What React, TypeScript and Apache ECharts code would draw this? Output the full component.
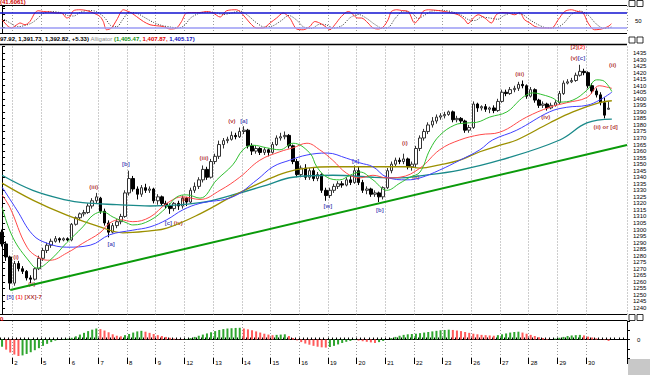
import React, { useEffect, useRef } from "react";
import * as echarts from "echarts";

const dayNames = ["1", "2", "5", "6", "7", "8", "9", "12", "13", "14", "15", "16", "19", "20", "21", "22", "23", "26", "27", "28", "29", "30"];
const barsPerDay = [3, 7, 7, 7, 7, 7, 7, 7, 7, 7, 7, 7, 7, 7, 7, 7, 7, 7, 7, 7, 7, 6];
const emptySlots = 4;

const opens = [1298, 1289, 1279,
  1259, 1274, 1270, 1268, 1263, 1262, 1270,
  1278, 1284, 1288, 1291, 1293, 1292, 1293,
  1292, 1304, 1309, 1312, 1313, 1318, 1322,
  1324, 1314, 1305, 1298, 1303, 1306, 1310,
  1328, 1339, 1331, 1327, 1332, 1330, 1331,
  1322, 1325, 1320, 1318, 1316, 1320, 1318,
  1324, 1321, 1330, 1333, 1338, 1346, 1340,
  1352, 1356, 1365, 1368, 1369, 1372, 1371,
  1375, 1376, 1364, 1360, 1362, 1359, 1361,
  1359, 1365, 1370, 1371, 1372, 1364, 1352,
  1342, 1347, 1340, 1345, 1339, 1342, 1330,
  1326, 1330, 1333, 1335, 1334, 1338, 1336,
  1345, 1336, 1330, 1331, 1327, 1328, 1325,
  1332, 1345, 1350, 1353, 1352, 1354, 1348,
  1350, 1362, 1370, 1375, 1380, 1383, 1386,
  1387, 1388, 1390, 1384, 1385, 1383, 1376,
  1378, 1396, 1393, 1394, 1392, 1393, 1391,
  1398, 1405, 1404, 1407, 1408, 1411, 1410,
  1402, 1407, 1399, 1395, 1396, 1393, 1395,
  1397, 1404, 1412, 1413, 1414, 1418, 1421,
  1420, 1410, 1406, 1403, 1397, 1392.0];
const closes = [1289, 1279, 1259,
  1274, 1270, 1268, 1263, 1262, 1270, 1278,
  1284, 1288, 1291, 1293, 1292, 1293, 1292,
  1304, 1309, 1312, 1313, 1318, 1322, 1325,
  1314, 1305, 1298, 1303, 1306, 1310, 1328,
  1339, 1331, 1327, 1332, 1330, 1331, 1322,
  1325, 1320, 1318, 1316, 1320, 1318, 1324,
  1321, 1330, 1333, 1338, 1346, 1340, 1352,
  1356, 1365, 1368, 1369, 1372, 1371, 1375,
  1376, 1364, 1360, 1362, 1359, 1361, 1359,
  1365, 1370, 1371, 1372, 1364, 1352, 1342,
  1347, 1340, 1345, 1339, 1342, 1330, 1326,
  1330, 1333, 1335, 1334, 1338, 1336, 1345,
  1336, 1330, 1331, 1327, 1328, 1325, 1332,
  1345, 1350, 1353, 1352, 1354, 1348, 1350,
  1362, 1370, 1375, 1380, 1383, 1386, 1387,
  1388, 1390, 1384, 1385, 1383, 1376, 1378,
  1396, 1393, 1394, 1392, 1393, 1391, 1398,
  1405, 1404, 1407, 1408, 1411, 1410, 1402,
  1407, 1399, 1395, 1396, 1393, 1395, 1397,
  1404, 1412, 1413, 1414, 1418, 1421, 1420,
  1410, 1406, 1403, 1397, 1387.49, 1392.82];
const lows = [1287, 1276, 1254,
  1257, 1268, 1266, 1261, 1259, 1261, 1269,
  1276, 1282, 1286, 1290, 1290, 1291, 1291,
  1291, 1303, 1307, 1310, 1312, 1316, 1320,
  1312, 1303, 1294, 1297, 1301, 1304, 1309,
  1326, 1329, 1323, 1325, 1328, 1328, 1320,
  1319, 1318, 1316, 1312, 1314, 1315, 1316,
  1318, 1320, 1328, 1331, 1336, 1338, 1339,
  1350, 1354, 1362, 1366, 1368, 1369, 1370,
  1373, 1362, 1357, 1358, 1357, 1357, 1356,
  1358, 1364, 1368, 1369, 1362, 1350, 1340,
  1340, 1338, 1338, 1337, 1337, 1328, 1322,
  1324, 1328, 1331, 1332, 1333, 1334, 1335,
  1334, 1328, 1327, 1325, 1325, 1321, 1323,
  1331, 1343, 1348, 1350, 1350, 1346, 1345,
  1347, 1360, 1368, 1373, 1378, 1381, 1384,
  1385, 1387, 1382, 1382, 1381, 1374, 1374,
  1377, 1390, 1391, 1390, 1389, 1389, 1390,
  1397, 1402, 1403, 1405, 1406, 1408, 1400,
  1401, 1397, 1393, 1393, 1391, 1392, 1394,
  1396, 1403, 1411, 1412, 1413, 1417, 1418,
  1408, 1404, 1401, 1395, 1385, 1391.73];
const highs = [1300, 1291, 1280,
  1276, 1276, 1272, 1269, 1265, 1271, 1280,
  1286, 1290, 1293, 1295, 1294, 1294, 1294,
  1305, 1310, 1313, 1315, 1320, 1324, 1328,
  1325, 1316, 1307, 1305, 1308, 1312, 1330,
  1345, 1341, 1333, 1334, 1335, 1333, 1332,
  1327, 1326, 1322, 1320, 1321, 1322, 1326,
  1325, 1332, 1336, 1340, 1349, 1348, 1354,
  1358, 1368, 1370, 1371, 1375, 1374, 1378,
  1379, 1377, 1366, 1364, 1363, 1363, 1362,
  1367, 1372, 1374, 1375, 1373, 1365, 1354,
  1349, 1350, 1347, 1347, 1344, 1343, 1332,
  1332, 1335, 1337, 1337, 1340, 1341, 1349,
  1348, 1338, 1333, 1332, 1330, 1329, 1333,
  1347, 1352, 1355, 1355, 1358, 1355, 1352,
  1364, 1372, 1377, 1382, 1386, 1388, 1389,
  1390, 1391, 1391, 1387, 1386, 1384, 1380,
  1398, 1397, 1395, 1396, 1394, 1395, 1400,
  1407, 1407, 1409, 1410, 1413, 1414, 1411,
  1409, 1408, 1400, 1398, 1397, 1397, 1399,
  1406, 1414, 1415, 1416, 1420, 1426, 1423,
  1421, 1412, 1408, 1405, 1401, 1397.92];

// [bar index, value] samples
const kLine = [[0, 53], [0.7, 40], [1.5, 26], [2.3, 20], [3.6, 33], [4.4, 40], [5.6, 33], [6.8, 46], [8, 80], [8.8, 89], [10.1, 86], [11.7, 84], [13.3, 80], [14.5, 80], [15.8, 60], [16.6, 66], [17.4, 89], [19, 93], [20.6, 90], [22.3, 80], [23.9, 66], [24.7, 46], [25.5, 13], [26.7, 20], [28, 53], [29.6, 93], [30.8, 86], [31.6, 80], [32.8, 66], [34.5, 46], [36.1, 33], [37.7, 29], [39.3, 26], [41, 16], [42.6, 20], [43.8, 46], [45, 80], [46.6, 82], [48.3, 82], [49.9, 86], [51.5, 80], [53.2, 64], [54.8, 89], [57.2, 93], [58.8, 73], [60.5, 40], [62.1, 20], [63.7, 20], [65.4, 40], [67, 60], [68.6, 80], [70.2, 60], [71.9, 16], [73.5, 13], [75.1, 26], [76.3, 46], [77.5, 40], [78.8, 27], [80, 13], [81.2, 33], [82.8, 66], [84.5, 86], [85.3, 80], [86.1, 66], [86.9, 60], [87.7, 60], [89.3, 40], [90.5, 20], [91.8, 16], [93, 24], [94.2, 53], [95, 86], [96.3, 93], [97.5, 90], [99.1, 86], [100.7, 40], [101.9, 60], [102.7, 86], [104, 93], [106.4, 90], [108, 86], [109.7, 80], [111.3, 73], [112.9, 53], [113.7, 37], [115, 60], [116.2, 73], [117.8, 60], [119.4, 40], [120.6, 73], [121.9, 82], [123.5, 80], [125.1, 73], [126.3, 82], [127.5, 53], [128.8, 40], [130, 26], [131.6, 20], [134.1, 20], [135.7, 53], [137.3, 86], [138.9, 93], [140.5, 86], [141.8, 80], [143, 40], [144.6, 13], [146.3, 16], [147.9, 26], [148.7, 37]];
const dLine = [[0, 60], [1, 50], [2.5, 35], [4, 25], [5.5, 30], [7, 38], [8.5, 55], [10, 78], [12, 86], [14, 82], [16, 70], [17.5, 68], [19, 82], [21, 90], [23, 86], [25, 62], [26.5, 30], [28, 25], [29.5, 55], [31, 82], [33, 78], [35, 60], [37, 42], [39, 30], [41, 24], [43, 20], [44.5, 30], [46, 60], [48, 78], [50, 84], [52, 82], [54, 74], [56, 80], [58, 88], [60, 70], [62, 42], [64, 24], [66, 28], [68, 48], [70, 70], [72, 50], [73.5, 25], [75.5, 18], [77.5, 35], [79, 33], [81, 20], [83, 30], [85, 62], [87, 74], [89, 58], [91, 34], [93, 18], [94.5, 25], [96, 60], [98, 88], [100, 80], [101.5, 58], [103, 70], [105, 88], [108, 90], [110, 84], [112, 72], [114, 52], [115.5, 50], [117, 64], [119, 60], [121, 55], [122.5, 70], [124.5, 80], [127, 74], [128.5, 56], [130.5, 36], [132.5, 22], [135, 20], [137, 38], [139, 75], [141, 88], [143, 72], [145, 36], [147, 18], [149, 25]];
const lipsLine = [[0, 1317], [2.7, 1293.5], [6.8, 1275], [8.5, 1270.5], [11.7, 1276.5], [15.8, 1290], [19.7, 1302], [22.2, 1311], [24.6, 1313.5], [27.1, 1309.5], [30.5, 1305], [31.9, 1303.5], [36.1, 1307], [40.2, 1317], [42.7, 1325], [45.1, 1326.5], [48.3, 1324], [52.4, 1338], [56.3, 1349.5], [58.8, 1361], [61.2, 1364.5], [64.6, 1362.5], [67.8, 1361], [71, 1366], [75.1, 1358.5], [76.8, 1348], [79.3, 1340], [82.4, 1338], [84.9, 1341.5], [87.3, 1344], [90.5, 1338], [93.9, 1330], [97.1, 1335.5], [99.5, 1340], [102, 1344], [104.4, 1361], [106.8, 1372], [110.5, 1380], [113.4, 1381.5], [115.8, 1382], [119, 1386], [123.2, 1390], [126.3, 1399], [128, 1403], [129.5, 1404.5], [132, 1403], [134.4, 1400.5], [136.1, 1397.5], [139.3, 1399], [142.7, 1406.5], [145.1, 1414.5], [146.6, 1414], [148.8, 1405.5]];
const teethLine = [[0, 1326.5], [1.9, 1317], [6.1, 1286.5], [9.3, 1278], [11.7, 1276.5], [15.8, 1282], [19.7, 1289.5], [23.9, 1297.5], [26.3, 1305], [28.8, 1307.5], [31.9, 1306], [36.1, 1309.5], [40.2, 1320], [44.1, 1325], [48.3, 1323], [53.2, 1330], [58, 1340], [62.9, 1353], [67.8, 1359.5], [71, 1362.5], [74.4, 1366], [77.5, 1361], [80.7, 1353], [84.1, 1343], [87.3, 1339.5], [90.5, 1341.5], [93.9, 1339.5], [97.1, 1340], [102, 1347], [106.8, 1361], [111.7, 1368.5], [116.6, 1372.5], [121.5, 1374.5], [128, 1386], [133.6, 1393.5], [137.8, 1397], [142.7, 1401], [145.8, 1410], [147.5, 1409], [148.8, 1408]];
const jawLine = [[0, 1332.5], [3.6, 1315], [7.5, 1296], [11, 1289.5], [15.8, 1286.5], [21.5, 1288], [26.3, 1296], [31.9, 1299.5], [36.1, 1302], [40.2, 1307.5], [44.1, 1315], [48.3, 1320], [56.3, 1325], [62.2, 1338], [66.1, 1348], [70.2, 1353], [74.4, 1357], [79.3, 1358.5], [84.1, 1354.5], [87.3, 1351], [90.5, 1348], [93.9, 1340], [98.8, 1338], [102, 1339.5], [106.8, 1345.5], [111.7, 1353], [116.6, 1361], [119.7, 1368.5], [125.6, 1376], [133.6, 1390], [137.8, 1393.5], [142.7, 1395], [145.8, 1399], [148.8, 1405]];
const oliveLine = [[0, 1335.5], [7.5, 1322.5], [15.8, 1311], [23.9, 1302], [29.5, 1297.5], [36.1, 1299], [40.2, 1301], [48.3, 1312], [56.3, 1325.5], [64.6, 1338], [69.5, 1344], [74.4, 1347], [80.7, 1348], [87.3, 1348], [93.9, 1348], [98.8, 1348], [102, 1347], [106.8, 1349.5], [111.7, 1353], [116.6, 1359.5], [121.5, 1364.5], [125.6, 1368.5], [133.6, 1381.5], [139.3, 1390], [145.8, 1397], [148.8, 1398.5]];
const tealLine = [[0, 1341.5], [7.5, 1330], [15.8, 1322.5], [19.7, 1320.5], [28, 1319], [36.1, 1318], [48.3, 1320.5], [56.3, 1326.5], [64.6, 1334], [71, 1340], [80.7, 1341.5], [90.5, 1340], [97.1, 1339.5], [102, 1341], [111.7, 1345.5], [121.5, 1353], [136.1, 1368.5], [142.7, 1381.5], [148.8, 1384.5]];
const trendLine = [[2, 1253.8], [152.5, 1364.6]];

const aoValues = [-25, -35, -45, -52, -57, -55, -50, -44, -37, -30, -22, -15, -9, -4, 0, 2, 3,
  6, 11, 17, 23, 29, 34, 38, 36, 31, 25, 18, 13, 11, 15, 19, 24, 28, 30, 27, 23, 19, 15, 12, 9, 6, 3, 1, -1,
  2, 5, 9, 13, 17, 21, 25, 29, 33, 36, 38, 39, 40, 40.5, 38, 35, 32, 28, 24, 20, 17, 15, 16, 17, 18, 12, 5, -3,
  -9, -14, -18, -22, -25, -27, -28, -26, -22, -17, -12, -8, -5, -2, -4, -6, -8, -10, -12, -9, -5, 0, 5, 9, 13,
  16, 18, 19, 20, 22, 24, 26, 28, 30, 32, 33, 34, 33, 31, 29, 26, 23, 20, 18, 16, 15, 14, 13, 15, 18, 21, 24,
  26, 27, 24, 20, 16, 12, 8, 5, 2, 0, 3, 6, 9, 12, 14, 15, 16, 14, 10, 7, 4, 1, -2, -5];

// [bar index, price, text]
const waveLabels: [number, number, string][] = [
  [3.4, 1279, "{r|(i)}"],
  [7.3, 1258.4, "{r|(ii)}"],
  [5.4, 1248.4, "{b|[5]} {R|(1)} {r|[XX]-7}"],
  [22.4, 1332.5, "{r|(iii)}"],
  [26.6, 1288.9, "{b|[a]}"],
  [30.2, 1350.1, "{b|[b]}"],
  [41.9, 1305, "{b|[c]} {r|(iv)}"],
  [44.8, 1323.5, "{r|(ii)}"],
  [49.3, 1354.7, "{r|(iii)}"],
  [56.1, 1383, "{r|(v)}"],
  [59, 1383, "{b|[a]}"],
  [79.5, 1318, "{b|[w]}"],
  [86.3, 1352.4, "{b|[x]}"],
  [92.2, 1314.9, "{b|[b]}"],
  [98.3, 1366.2, "{r|(i)}"],
  [101, 1340.2, "{r|(ii)}"],
  [126.3, 1418.9, "{r|(iii)}"],
  [132.7, 1386.1, "{r|(iv)}"],
  [140.5, 1431.2, "{r|(v)}{b|[c]}"],
  [140.5, 1439.5, "{r|[2]}{R|(2)}"],
  [149, 1425.8, "{r|(ii)}"],
  [147.3, 1378.4, "{r|(ii) or [d]}"],
];

const FONT = "Liberation Sans";

export default function App() {
  const ref = useRef<HTMLDivElement>(null);
  useEffect(() => {
    if (!ref.current) return;
    const chart = echarts.init(ref.current, null, { renderer: "svg" });

    const cats: string[] = [];
    const dayStart = new Set<number>();
    dayNames.forEach((d, k) => {
      for (let h = 0; h < barsPerDay[k]; h++) {
        if (h === 0 && k > 0) dayStart.add(cats.length);
        cats.push(d + "-" + h);
      }
    });
    for (let e = 0; e < emptySlots; e++) cats.push("e" + e);
    const nCats = cats.length;
    const isDay = (i: number) => dayStart.has(i);

    const dotted = { show: true, interval: isDay, lineStyle: { color: "#9a9a9a", width: 1, type: [1, 2] as any } };
    const catAxis = (g: number) => ({
      type: "category", gridIndex: g, data: cats, boundaryGap: true,
      axisLine: { show: false }, axisTick: { show: false }, axisLabel: { show: false },
      splitLine: dotted,
    });
    const valX = (g: number) => ({ type: "value", gridIndex: g, min: -0.5, max: nCats - 0.5, show: false, splitLine: { show: false } });

    const gridL = 0, gridR = 23;
    const richStyle = (c: string) => ({ color: c, fontSize: 6, fontWeight: "bold", fontFamily: FONT, textBorderWidth: 0, textShadowBlur: 0 });

    const option: any = {
      animation: false,
      textStyle: { fontFamily: FONT },
      grid: [
        { left: gridL, right: gridR, top: 6, height: 27 },
        { left: gridL, right: gridR, top: 46.5, height: 268 },
        { left: gridL, right: gridR, top: 321, height: 37 },
      ],
      xAxis: [
        catAxis(0),
        catAxis(1),
        {
          type: "category", gridIndex: 2, data: cats, boundaryGap: true, position: "bottom",
          axisLine: { show: true, lineStyle: { color: "#000", width: 1 } },
          axisTick: { show: true, interval: 0, inside: true, length: 2, lineStyle: { color: "#000" } },
          axisLabel: {
            show: true, interval: isDay, formatter: (v: string) => v.split("-")[0],
            fontSize: 6, color: "#000", align: "left", margin: 1.5, fontFamily: FONT,
          },
          splitLine: dotted,
        },
        {
          type: "category", gridIndex: 2, data: cats, boundaryGap: true, position: "bottom",
          axisLine: { show: false },
          axisTick: { show: true, interval: isDay, length: 6, lineStyle: { color: "#000" } },
          axisLabel: { show: false }, splitLine: { show: false },
        },
        valX(0),
        valX(1),
      ],
      yAxis: [
        {
          type: "value", gridIndex: 0, position: "right", min: 0, max: 108, interval: 25,
          axisLine: { show: true, lineStyle: { color: "#000" } },
          axisTick: { show: true, length: 3, lineStyle: { color: "#000" } },
          axisLabel: { fontSize: 6, color: "#000", margin: 8, formatter: (v: number) => (v === 50 ? "50" : "") },
          splitLine: { show: false },
        },
        {
          type: "value", gridIndex: 1, position: "right", min: 1235, max: 1440, interval: 5,
          axisLine: { show: true, lineStyle: { color: "#000" } },
          axisTick: { show: true, length: 3, lineStyle: { color: "#000" } },
          axisLabel: { fontSize: 6, color: "#000", margin: 6, formatter: (v: number) => (v >= 1240 && v <= 1435 ? String(v) : "") },
          splitLine: { show: false },
        },
        {
          type: "value", gridIndex: 2, position: "right", min: -64, max: 64, interval: 32,
          axisLine: { show: true, lineStyle: { color: "#000" } },
          axisTick: { show: true, length: 3, lineStyle: { color: "#000" } },
          axisLabel: { fontSize: 6, color: "#000", margin: 10, formatter: (v: number) => (v === 0 ? "0" : "") },
          splitLine: { show: false },
        },
      ],
      series: [
        {
          type: "line", xAxisIndex: 4, yAxisIndex: 0, data: dLine, symbol: "none", smooth: 0.3,
          lineStyle: { color: "#333333", width: 1, type: [1, 1.5] },
          markLine: {
            silent: true, symbol: "none", label: { show: false },
            data: [
              { yAxis: 80, lineStyle: { color: "#1010d0", width: 1.5, type: "solid" } },
              { yAxis: 20, lineStyle: { color: "#9a9af5", width: 1.5, type: "solid" } },
            ],
          },
        },
        { type: "line", xAxisIndex: 4, yAxisIndex: 0, data: kLine, symbol: "none", smooth: 0.3, lineStyle: { color: "#ff3030", width: 1 } },
        { type: "line", xAxisIndex: 5, yAxisIndex: 1, data: tealLine, symbol: "none", smooth: 0.4, lineStyle: { color: "#1a8a8a", width: 1.3 } },
        { type: "line", xAxisIndex: 5, yAxisIndex: 1, data: oliveLine, symbol: "none", smooth: 0.4, lineStyle: { color: "#9c9000", width: 1.3 } },
        { type: "line", xAxisIndex: 5, yAxisIndex: 1, data: jawLine, symbol: "none", smooth: 0.4, lineStyle: { color: "#4040ff", width: 1 } },
        { type: "line", xAxisIndex: 5, yAxisIndex: 1, data: teethLine, symbol: "none", smooth: 0.4, lineStyle: { color: "#ff4a4a", width: 1 } },
        { type: "line", xAxisIndex: 5, yAxisIndex: 1, data: lipsLine, symbol: "none", smooth: 0.4, lineStyle: { color: "#30c030", width: 1 } },
        { type: "line", xAxisIndex: 5, yAxisIndex: 1, data: trendLine, symbol: "none", lineStyle: { color: "#0a9a0a", width: 2 } },
        {
          type: "candlestick", xAxisIndex: 1, yAxisIndex: 1, barWidth: 3,
          data: opens.map((o, i) => [o, closes[i], lows[i], highs[i]]),
          itemStyle: { color: "#ffffff", color0: "#000000", borderColor: "#333333", borderColor0: "#000000", borderWidth: 1 },
        },
        {
          type: "scatter", xAxisIndex: 5, yAxisIndex: 1, symbolSize: 1, itemStyle: { color: "rgba(0,0,0,0)" },
          data: waveLabels.map((l) => ({ value: [l[0], l[1]], label: { formatter: l[2] } })),
          label: {
            show: true, position: "inside", fontSize: 6, fontWeight: "bold", fontFamily: FONT,
            color: "#b00000", textBorderWidth: 0, textBorderColor: "rgba(0,0,0,0)",
            rich: { r: richStyle("#a00000"), R: richStyle("#ff0000"), b: richStyle("#1c1ca8") },
          },
        },
        {
          type: "bar", xAxisIndex: 2, yAxisIndex: 2, barWidth: 2,
          data: aoValues.map((v, i) => ({ value: v, itemStyle: { color: i > 0 && v < aoValues[i - 1] ? "#ff5a5a" : "#2ea52e" } })),
        },
      ],
      graphic: [
        { type: "line", shape: { x1: 0, y1: 5.5, x2: 627, y2: 5.5 }, style: { stroke: "#000", lineWidth: 1 } },
        { type: "line", shape: { x1: 0, y1: 33.5, x2: 627, y2: 33.5 }, style: { stroke: "#000", lineWidth: 1 } },
        { type: "line", shape: { x1: 0, y1: 44.5, x2: 627, y2: 44.5 }, style: { stroke: "#000", lineWidth: 1.5 } },
        { type: "line", shape: { x1: 0, y1: 314.5, x2: 627, y2: 314.5 }, style: { stroke: "#000", lineWidth: 1 } },
        { type: "line", shape: { x1: 0, y1: 320.5, x2: 627, y2: 320.5 }, style: { stroke: "#000", lineWidth: 1 } },
        { type: "text", left: 0, top: -1, style: { text: "(41.6061)", fill: "#d00000", font: "bold 6px 'Liberation Sans'" } },
        {
          type: "text", left: 0, top: 35.5,
          style: {
            text: "{k|97.92, 1,391.73, 1,392.82, +5.33)} {g|Alligator} {gr|(1,405.47,} {rd|1,407.87,} {bl|1,405.17)}",
            font: "bold 6px 'Liberation Sans'",
            rich: {
              k: { fill: "#000", font: "bold 6px 'Liberation Sans'" },
              g: { fill: "#8a8a8a", font: "6px 'Liberation Sans'" },
              gr: { fill: "#109010", font: "bold 6px 'Liberation Sans'" },
              rd: { fill: "#e00000", font: "bold 6px 'Liberation Sans'" },
              bl: { fill: "#1010c0", font: "bold 6px 'Liberation Sans'" },
            },
          },
        },
        { type: "text", left: 0, top: 315.5, style: { text: "0", fill: "#d00000", font: "bold 6px 'Liberation Sans'" } },
        { type: "rect", shape: { x: 629, y: 0.5, width: 6, height: 6 }, style: { fill: "#fff", stroke: "#000", lineWidth: 0.8 } },
        { type: "rect", shape: { x: 637, y: 0.5, width: 6, height: 6 }, style: { fill: "#fff", stroke: "#000", lineWidth: 0.8 } },
        { type: "rect", shape: { x: 629, y: 37, width: 6, height: 6 }, style: { fill: "#fff", stroke: "#000", lineWidth: 0.8 } },
        { type: "rect", shape: { x: 637, y: 37, width: 6, height: 6 }, style: { fill: "#fff", stroke: "#000", lineWidth: 0.8 } },
        { type: "rect", shape: { x: 629, y: 314.5, width: 6, height: 6 }, style: { fill: "#fff", stroke: "#000", lineWidth: 0.8 } },
        { type: "rect", shape: { x: 637, y: 314.5, width: 6, height: 6 }, style: { fill: "#fff", stroke: "#000", lineWidth: 0.8 } },
        { type: "rect", shape: { x: 628, y: 359, width: 22, height: 16 }, style: { fill: "#c8c8c8" } },
      ],
    };
    chart.setOption(option);
    return () => chart.dispose();
  }, []);
  return <div ref={ref} style={{ position: "fixed", left: 0, top: 0, width: 650, height: 375, background: "#fff" }} />;
}
